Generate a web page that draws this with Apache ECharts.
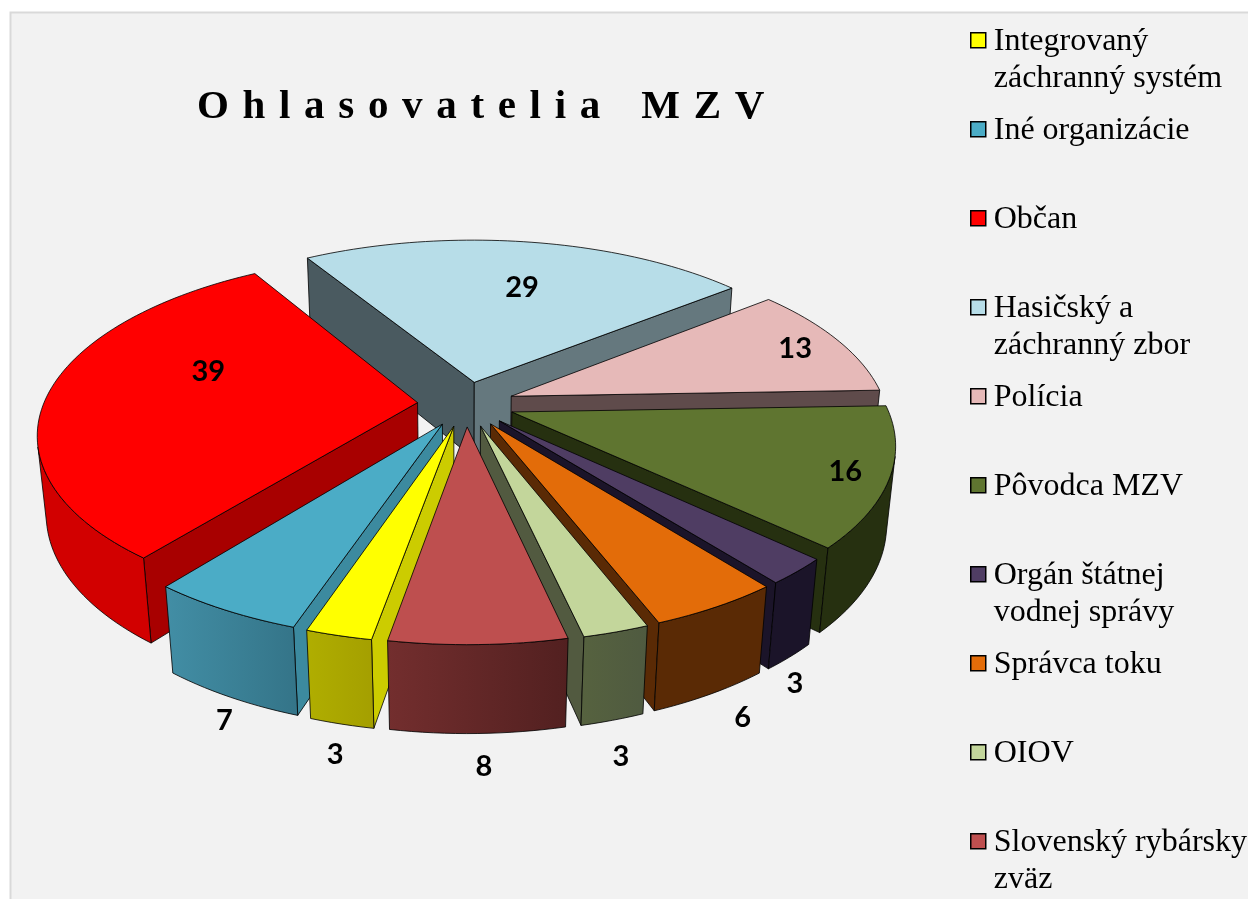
<!DOCTYPE html>
<html><head><meta charset="utf-8">
<style>html,body{margin:0;padding:0;background:#fff}#c{width:1248px;height:899px}</style>
<script src="https://cdn.jsdelivr.net/npm/echarts@6/dist/echarts.min.js"></script>
</head><body><div id="c"></div>
<script>
var chartTitle = 'O h l a s o v a t e l i a   M Z V';
var categories = ['Integrovaný záchranný systém','Iné organizácie','Občan','Hasičský a záchranný zbor','Polícia','Pôvodca MZV','Orgán štátnej vodnej správy','Správca toku','OIOV','Slovenský rybársky zväz'];
var values = [3,7,39,29,13,16,3,6,3,8];
var legendBreaks = {'Integrovaný záchranný systém':'Integrovaný\nzáchranný systém','Hasičský a záchranný zbor':'Hasičský a\nzáchranný zbor','Orgán štátnej vodnej správy':'Orgán štátnej\nvodnej správy','Slovenský rybársky zväz':'Slovenský rybársky\nzväz'};

// styles
var topColors = ['#ffff00','#4bacc6','#ff0000','#b7dde8','#e6b9b8','#5f7530','#4f3d63','#e36c09','#c3d69b','#be4f4f'];
var startWall = ['#cccc00','#3c8a9f','#a80000','#4a5a60','#5f4b4b','#263010','#1b1429','#5a2a05','#525a40','#6b2a2a'];
var endWall   = ['#cccc00','#3c8a9f','#a80000','#65787e','#5f4b4b','#263010','#1b1429','#5a2a05','#525a40','#522020'];
var outerFrom = ['#b0ae00','#428ea5','#d20000','#65787e','#5f4b4b','#263010','#1b1429','#5a2a05','#56623f','#732e2e'];
var outerTo   = ['#a49f00','#347488','#d20000','#65787e','#5f4b4b','#263010','#1b1429','#5a2a05','#4f5a40','#522020'];
// label placement: radial factor, angular shift (deg), height
var labelPlace = [[1.11,-1,-0.238],[1.08,-2,-0.238],[0.61,14,0],[0.65,3,0],[0.86,0.5,0],[0.89,0.5,0],[1.08,4,-0.238],[1.11,-0.5,-0.238],[1.13,1.5,-0.238],[1.12,-0.5,-0.238]];

// view
var CX=466, CY=404, S=374, ELEV=27.5*Math.PI/180, DIST=5.3, HEIGHT=0.238, EXPLODE=0.13, FIRST=190;
var sinE=Math.sin(ELEV), cosE=Math.cos(ELEV), F=S*DIST;
function project(X,Y,Z){
  var yc=Z*cosE-Y*sinE, dep=DIST-(Y*cosE+Z*sinE);
  return [CX+F*X/dep, CY-F*yc/dep];
}
var total=values.reduce(function(a,b){return a+b},0);
var starts=[], acc=FIRST;
values.forEach(function(v){starts.push(acc);acc+=v/total*360;});
function rad(d){return d*Math.PI/180}
function dir(d){return [Math.sin(rad(d)),-Math.cos(rad(d))]}
function facing(n,p){ // n: ground normal, p: ground point
  return n[0]*(0-p[0])+n[1]*(DIST*cosE-p[1])>0;
}
var LINE='rgba(0,0,0,0.8)';
function poly(pts,fill,stroke){
  return {type:'polygon',shape:{points:pts},style:{fill:fill,stroke:stroke||LINE,lineWidth:1,lineJoin:'round'},silent:true};
}
function makeRender(i){
  return function(params,api){
    var value=api.value(0), a0=starts[i], sweep=value/total*360, a1=a0+sweep, mid=a0+sweep/2;
    var m=dir(mid), ox=m[0]*EXPLODE, oy=m[1]*EXPLODE, apex=[ox,oy];
    var kids=[];
    var c0=dir(a0), c1=dir(a1);
    var p0=[ox+c0[0],oy+c0[1]], p1=[ox+c1[0],oy+c1[1]];
    // radial walls
    if(facing(dir(a0-90),apex)) kids.push(poly([project(apex[0],apex[1],0),project(p0[0],p0[1],0),project(p0[0],p0[1],-HEIGHT),project(apex[0],apex[1],-HEIGHT)],startWall[i]));
    if(facing(dir(a1+90),apex)) kids.push(poly([project(apex[0],apex[1],0),project(p1[0],p1[1],0),project(p1[0],p1[1],-HEIGHT),project(apex[0],apex[1],-HEIGHT)],endWall[i]));
    // outer wall and top
    var n=Math.max(4,Math.ceil(sweep/1.5)), topPts=[project(apex[0],apex[1],0)], up=[], low=[];
    for(var k=0;k<=n;k++){
      var a=a0+sweep*k/n, d=dir(a), p=[ox+d[0],oy+d[1]];
      topPts.push(project(p[0],p[1],0));
      if(facing(d,p)){up.push(project(p[0],p[1],0));low.unshift(project(p[0],p[1],-HEIGHT));}
    }
    if(up.length>1){
      kids.push(poly(up.concat(low),{type:'linear',x:0,y:0,x2:1,y2:0,colorStops:[{offset:0,color:outerFrom[i]},{offset:1,color:outerTo[i]}]}));
    }
    kids.push(poly(topPts,topColors[i]));
    // value label
    var lp=labelPlace[i], ld=dir(mid+lp[1]), lq=project(ox+ld[0]*lp[0],oy+ld[1]*lp[0],lp[2]);
    kids.push({type:'text',silent:true,z2:10,x:lq[0],y:lq[1],style:{text:String(value),fill:'#000',font:'bold 29px Lato',align:'center',verticalAlign:'middle'}});
    return {type:'group',children:kids};
  };
}
// painter's order: far slices first
var order=values.map(function(v,i){return i}).sort(function(a,b){
  var ma=starts[a]+values[a]/total*180, mb=starts[b]+values[b]/total*180;
  return dir(ma)[1]-dir(mb)[1];
});
var series=order.map(function(i){
  return {type:'custom',name:categories[i],coordinateSystem:'none',data:[[values[i]]],
    itemStyle:{color:topColors[i]},renderItem:makeRender(i),silent:true,animation:false};
});
var chart=echarts.init(document.getElementById('c'),null,{renderer:'canvas'});
chart.setOption({
  animation:false,
  backgroundColor:'#ffffff',
  title:{text:chartTitle.replace(/ /g,' \u200a'),left:197,top:87,padding:0,textStyle:{fontFamily:'Liberation Serif',fontWeight:'bold',fontSize:41,color:'#000'}},
  legend:{orient:'vertical',left:970,top:22,height:1000,padding:0,selectedMode:false,data:categories,
    icon:'path://M0 0L0 0.01M18 74L18 73.99M0 10H15V25H0Z',itemWidth:18,itemHeight:74,itemGap:13.5,
    itemStyle:{borderColor:'#000',borderWidth:1.5},
    formatter:function(n){return legendBreaks[n]||(n+'\n ');},
    textStyle:{fontFamily:'Liberation Serif',fontSize:32,lineHeight:37,color:'#000'}},
  graphic:[{type:'rect',z:-10,silent:true,shape:{x:10.5,y:12.5,width:1400,height:1000},style:{fill:'#f2f2f2',stroke:'#d9d9d9',lineWidth:2}}],
  series:series
});
</script></body></html>
